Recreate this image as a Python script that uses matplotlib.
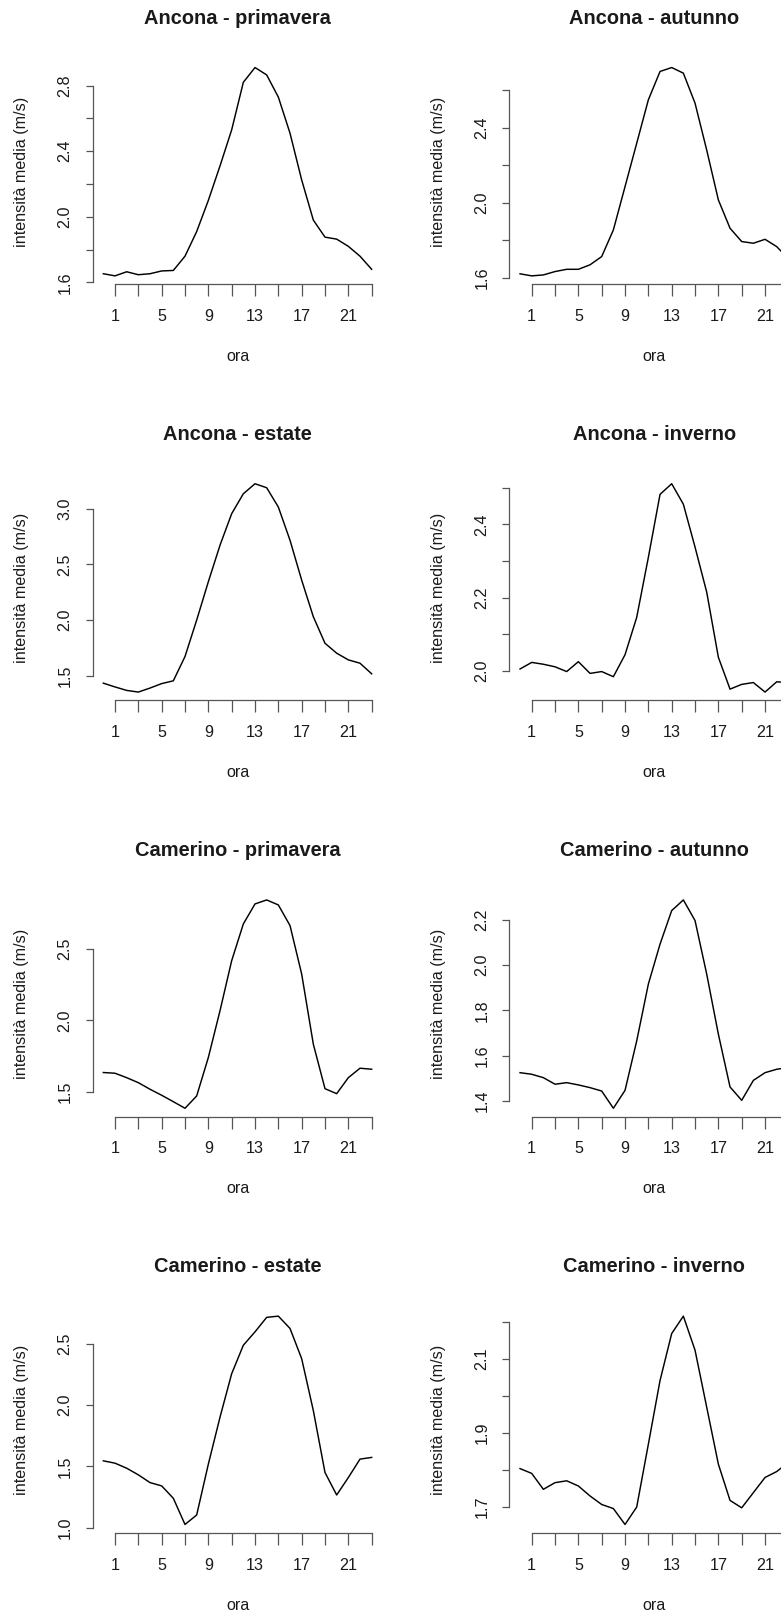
import matplotlib
matplotlib.use("Agg")
import matplotlib.pyplot as plt

plt.rcParams['font.family'] = ['Liberation Sans', 'DejaVu Sans']

hours = list(range(24))

titles = ["Ancona - primavera", "Ancona - autunno",
          "Ancona - estate", "Ancona - inverno",
          "Camerino - primavera", "Camerino - autunno",
          "Camerino - estate", "Camerino - inverno"]

anc_prim = [1.653, 1.640, 1.665, 1.647, 1.653, 1.670, 1.673, 1.760, 1.910, 2.100, 2.310, 2.530,
            2.820, 2.910, 2.865, 2.730, 2.510, 2.225, 1.980, 1.876, 1.864, 1.820, 1.760, 1.680]
anc_aut = [1.620, 1.609, 1.614, 1.632, 1.644, 1.644, 1.668, 1.712, 1.854, 2.085, 2.316, 2.548,
           2.699, 2.720, 2.690, 2.530, 2.280, 2.014, 1.863, 1.792, 1.783, 1.804, 1.765, 1.700]
anc_est = [1.434, 1.400, 1.369, 1.354, 1.390, 1.430, 1.455, 1.673, 2.000, 2.344, 2.672, 2.955,
           3.134, 3.224, 3.188, 3.015, 2.717, 2.359, 2.030, 1.792, 1.703, 1.643, 1.613, 1.518]
anc_inv = [2.005, 2.023, 2.018, 2.011, 1.998, 2.025, 1.993, 1.998, 1.984, 2.044, 2.146, 2.310,
           2.482, 2.511, 2.455, 2.338, 2.215, 2.037, 1.950, 1.963, 1.968, 1.942, 1.970, 1.968]
cam_prim = [1.636, 1.631, 1.600, 1.565, 1.519, 1.477, 1.432, 1.386, 1.472, 1.741, 2.068, 2.418,
            2.675, 2.815, 2.843, 2.808, 2.664, 2.325, 1.834, 1.523, 1.488, 1.600, 1.666, 1.659]
cam_aut = [1.525, 1.518, 1.503, 1.474, 1.481, 1.471, 1.459, 1.444, 1.368, 1.447, 1.665, 1.916,
           2.092, 2.240, 2.287, 2.196, 1.960, 1.695, 1.462, 1.403, 1.491, 1.525, 1.540, 1.548]
cam_est = [1.545, 1.526, 1.485, 1.431, 1.368, 1.341, 1.240, 1.027, 1.104, 1.518, 1.900, 2.254,
           2.486, 2.595, 2.713, 2.723, 2.623, 2.377, 1.954, 1.450, 1.267, 1.409, 1.559, 1.573]
cam_inv = [1.803, 1.790, 1.747, 1.765, 1.770, 1.756, 1.729, 1.706, 1.695, 1.652, 1.699, 1.869,
           2.041, 2.168, 2.215, 2.123, 1.969, 1.815, 1.717, 1.697, 1.738, 1.779, 1.795, 1.820]

series = [anc_prim, anc_aut, anc_est, anc_inv, cam_prim, cam_aut, cam_est, cam_inv]

yticks = [[1.6, 1.8, 2.0, 2.2, 2.4, 2.6, 2.8],
          [1.6, 1.8, 2.0, 2.2, 2.4, 2.6],
          [1.5, 2.0, 2.5, 3.0],
          [2.0, 2.1, 2.2, 2.3, 2.4, 2.5],
          [1.5, 2.0, 2.5],
          [1.4, 1.6, 1.8, 2.0, 2.2],
          [1.0, 1.5, 2.0, 2.5],
          [1.7, 1.8, 1.9, 2.0, 2.1, 2.2]]
ylabeled = [[1.6, 2.0, 2.4, 2.8],
            [1.6, 2.0, 2.4],
            [1.5, 2.0, 2.5, 3.0],
            [2.0, 2.2, 2.4],
            [1.5, 2.0, 2.5],
            [1.4, 1.6, 1.8, 2.0, 2.2],
            [1.0, 1.5, 2.0, 2.5],
            [1.7, 1.9, 2.1]]

xticks = list(range(1, 24, 2))
xlabeled = [1, 5, 9, 13, 17, 21]

xlab = "ora"
ylab = "intensità media (m/s)"

W, H = 781, 1613
fig = plt.figure(figsize=(W / 100, H / 100), dpi=100)

lefts = [92.6, 509.3]
top0 = 59.2
row_step = 416.2
pw, ph = 289.8, 225.0

axis_col = '#555555'
text_col = '#1a1a1a'
fs = 11.6

for i, (title, y) in enumerate(zip(titles, series)):
    r, c = divmod(i, 2)
    top = top0 + r * row_step
    ax = fig.add_axes([lefts[c] / W, 1 - (top + ph) / H, pw / W, ph / H])
    ax.plot(hours, y, color='black', lw=1.05)
    ax.margins(x=0.04, y=0.04)
    ax.set_facecolor('none')
    for s in ['top', 'right']:
        ax.spines[s].set_visible(False)
    for s in ['left', 'bottom']:
        ax.spines[s].set_color(axis_col)
        ax.spines[s].set_linewidth(0.9)
    ax.spines['bottom'].set_bounds(xticks[0], xticks[-1])
    ax.spines['left'].set_bounds(yticks[i][0], yticks[i][-1])
    ax.set_xticks(xticks)
    ax.set_xticklabels([str(t) if t in xlabeled else '' for t in xticks])
    ax.set_yticks(yticks[i])
    ax.set_yticklabels([f"{t:.1f}" if any(abs(t - l) < 1e-9 for l in ylabeled[i]) else ''
                        for t in yticks[i]], rotation=90, va='center')
    ax.tick_params(axis='x', length=8.4, width=0.9, color=axis_col, pad=9.5,
                   labelsize=fs, labelcolor=text_col)
    ax.tick_params(axis='y', length=4.8, width=0.9, color=axis_col, pad=9.5,
                   labelsize=fs, labelcolor=text_col)
    ax.set_xlabel(xlab, fontsize=fs, color=text_col)
    ax.xaxis.set_label_coords(0.5, -72.2 / ph)
    ax.xaxis.label.set_va('center')
    ax.set_ylabel(ylab, fontsize=fs, color=text_col)
    ax.yaxis.set_label_coords(-(lefts[0] - 21.7) / pw, 0.5)
    ax.yaxis.label.set_va('center')
    ax.text(0.5, 1 + 41.2 / ph, title, transform=ax.transAxes, ha='center', va='center',
            fontsize=14.4, fontweight='bold', color=text_col)

fig.savefig("out.png", dpi=100, facecolor='white')
